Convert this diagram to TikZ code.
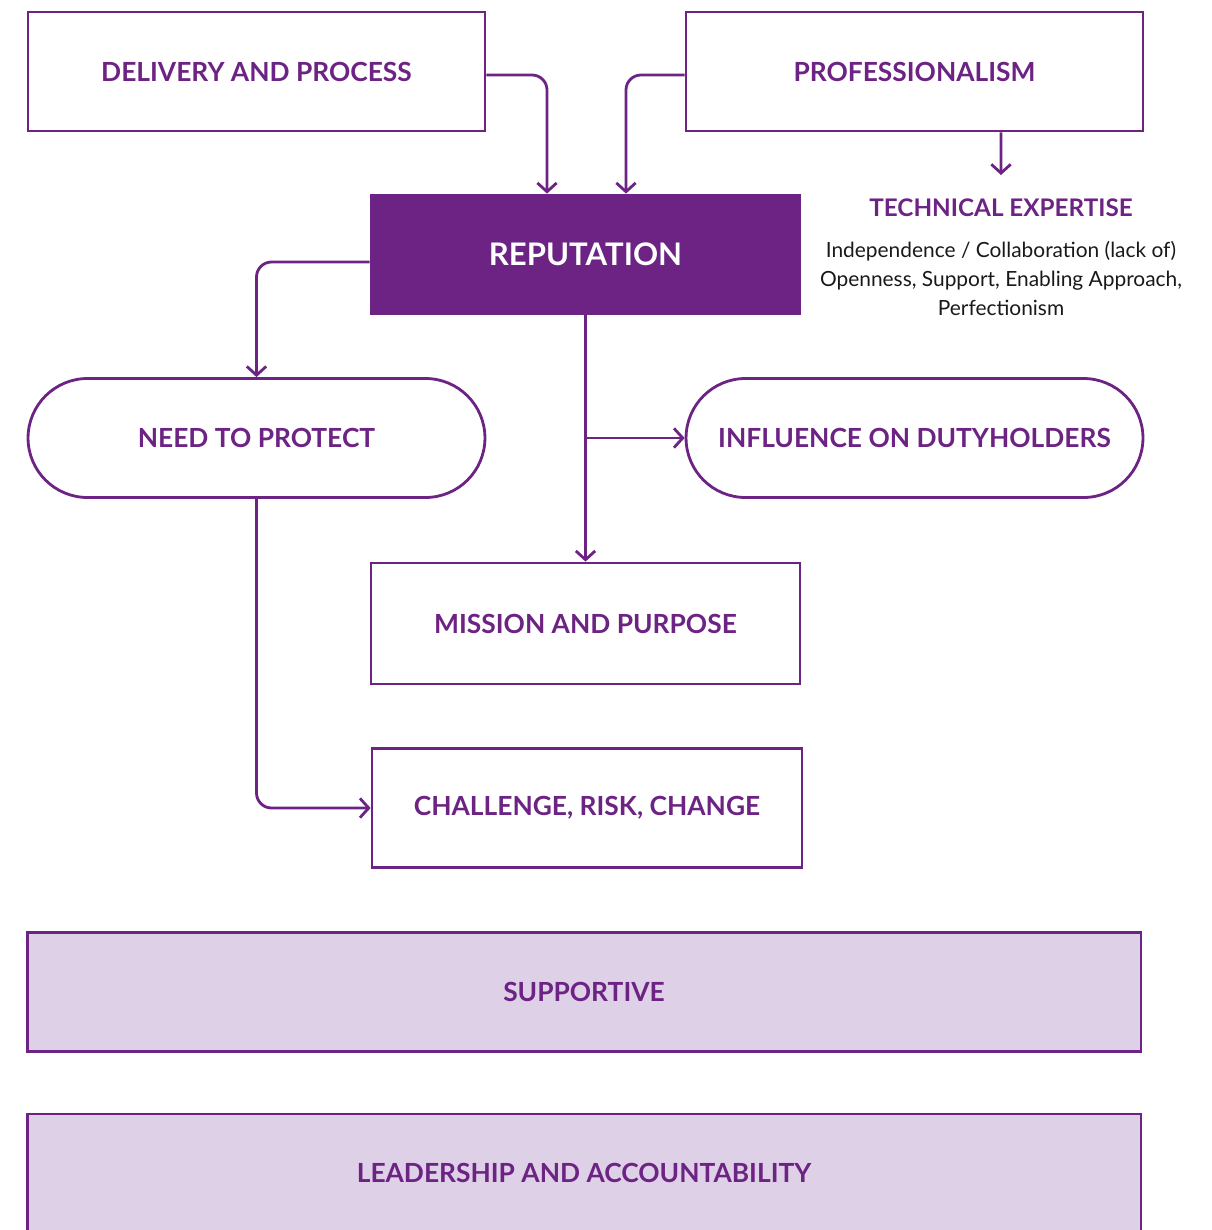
\documentclass[tikz,border=0pt]{standalone}
\usepackage{fontspec}
\setmainfont{Lato}
\usetikzlibrary{arrows.meta}
\definecolor{hsepurple}{HTML}{6C2383}
\definecolor{hselilac}{HTML}{DED0E7}

\begin{document}
\begin{tikzpicture}[x=0.02cm,y=-0.02cm,line width=1.6pt,
	box/.style={draw=hsepurple,text=hsepurple,font=\bfseries\fontsize{15}{17}\selectfont,
		minimum width=9.14cm,minimum height=2.38cm,inner sep=0pt},
	pill/.style={box,rounded corners=1.19cm},
	band/.style={box,fill=hselilac,minimum width=22.28cm},
	link/.style={draw=hsepurple,rounded corners=0.3cm,-{Straight Barb[length=5pt,width=11pt]}}]
	\useasboundingbox (0,0) rectangle (1211,1230);
	% top row
	\node[box] (dlv) at (256.5,71.5) {DELIVERY AND PROCESS};
	\node[box] (pro) at (914.5,71.5) {PROFESSIONALISM};
	\node[box,fill=hsepurple,text=white,minimum width=8.58cm,font=\bfseries\fontsize{17.7}{20}\selectfont] (rep) at (585.5,254.5) {REPUTATION};
	% technical expertise
	\node[text=hsepurple,font=\bfseries\fontsize{13.8}{16}\selectfont] (tec) at (1001,208) {TECHNICAL EXPERTISE};
	\node[align=center,text=black!90,font=\fontsize{11.9}{16.5}\selectfont] (tecx) at (1001,278)
		{Independence / Collaboration (lack of)\\Openness, Support, Enabling Approach,\\Perfectionism};
	\coordinate (tecin) at (1001,175);
	% middle
	\node[pill] (need) at (256.5,438) {NEED TO PROTECT};
	\node[pill] (inf) at (914.5,438) {INFLUENCE ON DUTYHOLDERS};
	\node[box,minimum width=8.58cm,minimum height=2.42cm] (mis) at (585.5,623.5) {MISSION AND PURPOSE};
	\node[box,minimum width=8.6cm] (chl) at (587,808) {CHALLENGE, RISK, CHANGE};
	% bands
	\node[band] (sup) at (584,992) {SUPPORTIVE};
	\node[band,minimum height=2.36cm] (lead) at (584,1173) {LEADERSHIP AND ACCOUNTABILITY};
	% connectors
	\draw[link] ([yshift=-0.07cm]dlv.east) -| ([xshift=-0.77cm]rep.north);
	\draw[link] ([yshift=-0.07cm]pro.west) -| ([xshift=0.81cm]rep.north);
	\draw[link] ([xshift=1.73cm]pro.south) -- (tecin);
	\draw[link] ([yshift=-0.15cm]rep.west) -| (need.north);
	\draw[link] (rep.south) -- (mis.north);
	\draw[link] (rep.south |- inf.west) -- (inf.west);
	\draw[link] (need.south) |- (chl.west);
\end{tikzpicture}
\end{document}
